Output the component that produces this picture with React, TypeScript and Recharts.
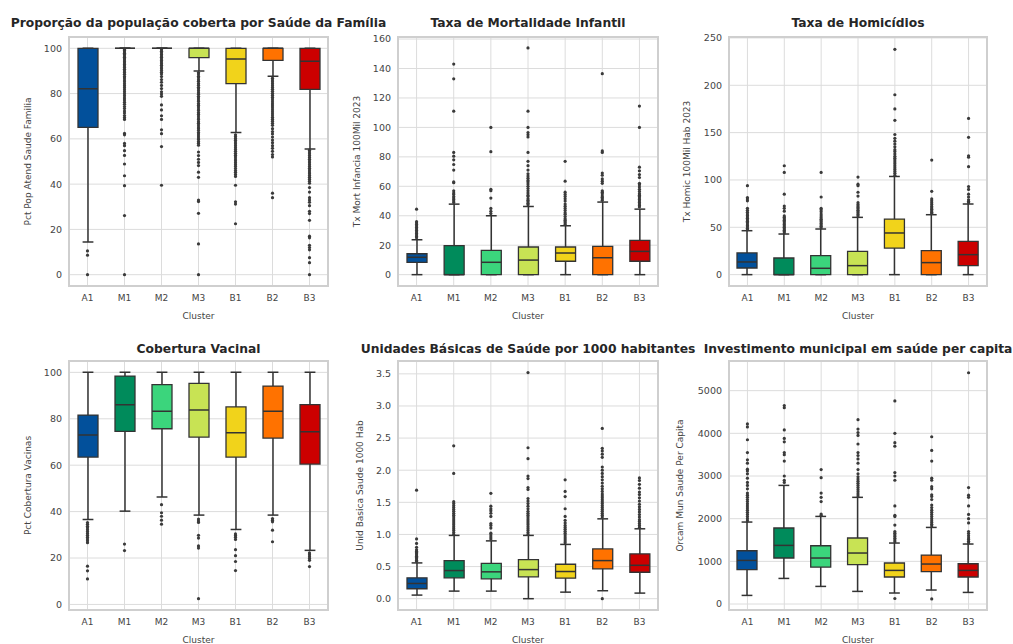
import React from 'react';
import {
  Bar,
  CartesianGrid,
  ComposedChart,
  Label,
  ReferenceArea,
  Scatter,
  XAxis,
  YAxis,
} from 'recharts';

const CLUSTERS = ['A1', 'M1', 'M2', 'M3', 'B1', 'B2', 'B3'];
const CLUSTER_COLORS = ['#02509b', '#008b5b', '#3bd57c', '#c8e354', '#f1d31b', '#ff7200', '#cc0000'];

// Proporção da população coberta por Saúde da Família
const pspfLow = [14.4, 100, 100, 90, 62.8, 87.7, 55.5];
const pspfQ1 = [65.1, 100, 100, 95.9, 84.4, 94.7, 81.9];
const pspfMed = [82.1, 100, 100, 100, 95.3, 100, 94.3];
const pspfQ3 = [100, 100, 100, 100, 100, 100, 100];
const pspfHigh = [100, 100, 100, 100, 100, 100, 100];
const pspfOutliers = [
  [10.5, 8.6, 0],
  [99.5, 99, 98.4, 97.8, 97.3, 96.6, 96, 95.4, 94.8, 94.1, 93.5, 92.8, 92.2, 91.5, 90.7, 90, 89.3, 88.5, 87.6, 86.9,
    86, 85.2, 84.3, 83.5, 82.6, 81.7, 80.8, 79.9, 79, 78.1, 77.2, 76.2, 75.3, 74.3, 73.4, 72.3, 71.4, 70.3, 69.4, 68.6,
    62.4, 61.8, 58, 57, 54.8, 52.7, 48.9, 43.7, 39.3, 26.1, 0],
  [99.4, 98.7, 98, 97.3, 96.6, 96, 95.3, 94.6, 94, 93.2, 92.5, 91.7, 91, 90.2, 89.4, 88.6, 87.5, 86.2, 85, 83.6, 82.2,
    80.8, 79.8, 78.8, 75, 72.8, 70.2, 68.6, 64, 62.3, 56.6, 39.5],
  [89.3, 88.6, 87.7, 87, 86.1, 85.4, 84.5, 83.7, 82.8, 82.1, 81.3, 80.4, 79.7, 78.8, 78.1, 77.2, 76.5, 75.6, 74.9, 74.1,
    73.2, 72.5, 71.6, 70.9, 70.1, 69.2, 68.5, 67.6, 66.9, 66.1, 65.2, 64.5, 63.7, 62.8, 62.1, 61.3, 60.4, 59.7, 58.8,
    58.1, 57.2, 54.2, 52.6, 51, 49.6, 48.2, 45.3, 43, 33, 32.3, 27.1, 13.6, 0],
  [61.8, 61, 60.2, 59.4, 58.6, 57.8, 57, 56.1, 55.3, 54.5, 53.6, 52.8, 52, 51.1, 50.3, 49.5, 48.6, 47.8, 46.9, 46,
    45.2, 44.3, 43.4, 39.5, 32.2, 31.2, 22.5],
  [86.8, 86, 85.2, 84.4, 83.5, 82.7, 81.9, 81, 80.1, 79.3, 78.4, 77.6, 76.7, 75.8, 75, 74.1, 73.2, 72.3, 71.4, 70.5,
    69.6, 68.7, 67.8, 66.9, 66, 64.5, 63.2, 62.2, 60.8, 59.5, 58.3, 57, 55.8, 54.5, 53.1, 52, 36, 34],
  [55, 54.2, 53.4, 52.6, 51.8, 51, 50.2, 49.4, 48.6, 47.8, 47, 46.2, 45.4, 44.6, 43.8, 43, 42.2, 41.3, 40.4, 38.5,
    36.5, 34, 33, 32, 30.5, 28, 27, 24, 17, 16.3, 13, 12, 11, 7.5, 5.3, 0],
];

// Taxa de Mortalidade Infantil
const mortLow = [0, 0, 0, 0, 0, 0, 0];
const mortQ1 = [8.4, 0, 0, 0, 9.1, 0, 9.1];
const mortMed = [11.8, 0, 8.4, 9.9, 14.7, 11.5, 15.8];
const mortQ3 = [14.2, 19.7, 16.5, 18.8, 18.8, 19.2, 23.3];
const mortHigh = [23.7, 47.9, 40, 46.3, 33.2, 49.3, 44.5];
const mortOutliers = [
  [25, 26, 27, 28, 29, 30, 31, 32, 33, 34, 35, 36, 44.5],
  [49, 50, 51, 52, 53, 54.5, 55.5, 57, 62.5, 63, 71, 74.8, 78, 80.5, 83, 111, 133, 143],
  [41.5, 43, 45, 52, 57, 58, 83.5, 100],
  [47.5, 48.5, 49.5, 50.5, 51.5, 53, 54, 55.5, 57, 58.5, 60, 61.5, 63, 64, 65.5, 67, 68.5, 71, 74, 77, 83, 93.5, 95,
    96.5, 100, 111, 154],
  [34, 35, 36, 37, 38, 39.5, 41, 42, 43.5, 45, 46.5, 48, 50, 51.5, 53, 54.5, 56, 63.5, 77],
  [50.5, 51.5, 52.5, 53.5, 55, 56, 57, 62, 63.5, 65, 67.5, 69, 83, 84, 136.5],
  [46, 47, 48, 49, 50, 51, 52, 53, 54, 55, 56.5, 58, 59.5, 61, 62, 66, 68, 70.5, 73, 100, 114.5],
];

// Taxa de Homicídios
const homLow = [0, 0, 0, 0, 0, 0, 0];
const homQ1 = [7, 0, 0, 0, 28.1, 0, 9.5];
const homMed = [13.4, 0, 6.7, 9.5, 44, 12.7, 21.1];
const homQ3 = [22.9, 17.6, 20, 24.6, 58.7, 25.3, 35.2];
const homHigh = [46.4, 42.9, 48.2, 60.5, 103.7, 63.3, 74.6];
const homOutliers = [
  [47.5, 49, 50.5, 52, 53.5, 55, 56.5, 58, 59.5, 61, 62.5, 64, 66, 68, 70, 78, 80, 81.5, 94],
  [44, 45.5, 47, 48.5, 50, 51.5, 53, 54.5, 56, 57.5, 59, 60.5, 62, 67, 70, 72.5, 85, 108, 115],
  [49.5, 51, 52.5, 54, 55.5, 57, 58.5, 60, 62, 64, 66.5, 68.5, 70, 82, 108],
  [62, 63.5, 65, 66.5, 68, 69.5, 71, 72.5, 74, 76, 83, 87, 94, 95.5, 103],
  [105, 107, 109, 111, 113, 115, 117, 119, 121, 123, 125, 127.5, 130, 132, 135, 138, 141, 144, 148, 163, 175, 190, 238],
  [64.5, 66, 67.5, 69, 70.5, 72, 74, 76, 78, 80, 88, 121],
  [76, 77.5, 79, 82, 85, 90, 93, 114, 124, 125.5, 145, 165],
];

// Cobertura Vacinal
const vacLow = [36.6, 40.2, 46.3, 38.5, 32.3, 38.5, 23.3];
const vacQ1 = [63.5, 74.6, 75.7, 72.1, 63.5, 71.7, 60.5];
const vacMed = [73, 86.1, 83.2, 83.8, 74, 83.2, 74.4];
const vacQ3 = [81.6, 98.4, 94.7, 95.3, 85.1, 94.1, 86.1];
const vacHigh = [100, 100, 100, 100, 100, 100, 100];
const vacOutliers = [
  [35.3, 34.5, 33.7, 33, 32.2, 31.4, 30.6, 29.8, 29, 28.2, 27.4, 26.6, 16.5, 14.5, 11],
  [26, 23.2],
  [43, 39.5, 38, 36.3, 34.6],
  [36.8, 36, 35.3, 29.8, 28.6, 25.2, 24.3, 2.5],
  [30.4, 29.7, 29, 28, 23.6, 21, 18.5, 14.6],
  [37, 36.3, 35.6, 32, 27],
  [22.2, 21.4, 20.6, 19.8, 19, 16.3],
];

// Unidades Básicas de Saúde por 1000 habitantes
const ubsLow = [0.056, 0.118, 0.118, 0, 0.102, 0.124, 0.087];
const ubsQ1 = [0.155, 0.325, 0.31, 0.34, 0.319, 0.464, 0.412];
const ubsMed = [0.237, 0.438, 0.418, 0.453, 0.423, 0.593, 0.52];
const ubsQ3 = [0.325, 0.593, 0.551, 0.608, 0.536, 0.774, 0.697];
const ubsHigh = [0.557, 0.985, 0.9, 0.985, 0.845, 1.243, 1.088];
const ubsOutliers = [
  [0.58, 0.6, 0.62, 0.64, 0.66, 0.68, 0.7, 0.72, 0.74, 0.76, 0.8, 0.86, 0.93, 1.69],
  [1.0, 1.03, 1.06, 1.09, 1.12, 1.15, 1.18, 1.21, 1.24, 1.27, 1.3, 1.33, 1.36, 1.39, 1.42, 1.45, 1.48, 1.51, 1.95, 2.38],
  [0.93, 0.96, 0.99, 1.02, 1.1, 1.14, 1.17, 1.28, 1.33, 1.37, 1.4, 1.44, 1.64],
  [1.0, 1.03, 1.06, 1.09, 1.12, 1.15, 1.18, 1.21, 1.24, 1.27, 1.3, 1.33, 1.36, 1.4, 1.44, 1.48, 1.52, 1.56, 1.7, 1.73,
    1.87, 1.91, 2.18, 2.35, 3.52],
  [0.87, 0.9, 0.93, 0.96, 0.99, 1.02, 1.05, 1.08, 1.11, 1.14, 1.18, 1.22, 1.28, 1.4, 1.59, 1.67, 1.85],
  [0, 1.27, 1.3, 1.33, 1.36, 1.39, 1.42, 1.45, 1.48, 1.51, 1.54, 1.57, 1.6, 1.63, 1.67, 1.71, 1.75, 1.8, 1.85, 1.9,
    1.95, 2.0, 2.05, 2.2, 2.25, 2.3, 2.34, 2.65],
  [1.11, 1.14, 1.17, 1.2, 1.23, 1.27, 1.31, 1.35, 1.39, 1.43, 1.47, 1.52, 1.57, 1.62, 1.66, 1.72, 1.78, 1.84, 1.88],
];

// Investimento municipal em saúde per capita
const invLow = [202, 600, 413, 296, 258, 328, 272];
const invQ1 = [804, 1078, 866, 921, 633, 757, 633];
const invMed = [1022, 1374, 1078, 1195, 788, 937, 788];
const invQ3 = [1249, 1781, 1366, 1547, 961, 1148, 944];
const invHigh = [1921, 2780, 2053, 2500, 1429, 1795, 1406];
const invOutliers = [
  [1950, 2000, 2050, 2100, 2150, 2200, 2250, 2300, 2350, 2400, 2450, 2500, 2550, 2600, 2700, 2780, 2850, 2950, 3050,
    3120, 3160, 3300, 3380, 3550, 3850, 4150, 4220],
  [2850, 2900, 3000, 3350, 3500, 3550, 3800, 3880, 4080, 4600, 4650],
  [2080, 2110, 2400, 2500, 2600, 2960, 3150],
  [2530, 2580, 2630, 2680, 2730, 2780, 2830, 2880, 2930, 2980, 3050, 3150, 3300, 3400, 3480, 3550, 3750, 3950, 4020,
    4100, 4320],
  [130, 1460, 1500, 1540, 1580, 1620, 1660, 1700, 1850, 2050, 2080, 2300, 2900, 3000, 3080, 3700, 3780, 4000, 4760],
  [120, 1830, 1870, 1910, 1950, 2000, 2050, 2100, 2150, 2200, 2260, 2320, 2450, 2520, 2560, 2700, 2750, 2900, 2950,
    3350, 3600, 3920],
  [1430, 1470, 1510, 1550, 1600, 1650, 1700, 1900, 2000, 2100, 2300, 2500, 2550, 2730, 5420],
];

const pctTicks = [0, 20, 40, 60, 80, 100];
const mortTicks = [0, 20, 40, 60, 80, 100, 120, 140, 160];
const homTicks = [0, 50, 100, 150, 200, 250];
const ubsTicks = [0, 0.5, 1, 1.5, 2, 2.5, 3, 3.5];
const invTicks = [0, 1000, 2000, 3000, 4000, 5000];

const INK = '#333333';
const Y_AXIS_W = 69;
const PLOT_TOP = 37;
const PLOT_H = 249;
const X_AXIS_H = 40;
const RIGHT_PAD = 4;
const CHART_H = PLOT_TOP + PLOT_H + X_AXIS_H;

interface PanelConfig {
  title: string;
  yLabel: string;
  left: number;
  top: number;
  titleDy: number;
  plotWidth: number;
  labelOffset: number;
  domain: [number, number];
  ticks: number[];
  decimals: number;
  low: number[];
  q1: number[];
  med: number[];
  q3: number[];
  high: number[];
  outliers: number[][];
}

const panels: PanelConfig[] = [
  {
    title: 'Proporção da população coberta por Saúde da Família',
    yLabel: 'Pct Pop Atend Saude Familia',
    left: 0, top: 0, titleDy: 15, plotWidth: 259, labelOffset: 28,
    domain: [-5, 105], ticks: pctTicks, decimals: 0,
    low: pspfLow, q1: pspfQ1, med: pspfMed, q3: pspfQ3, high: pspfHigh, outliers: pspfOutliers,
  },
  {
    title: 'Taxa de Mortalidade Infantil',
    yLabel: 'Tx Mort Infancia 100Mil 2023',
    left: 329, top: 0, titleDy: 15, plotWidth: 260, labelOffset: 28,
    domain: [-7.7, 161.4], ticks: mortTicks, decimals: 0,
    low: mortLow, q1: mortQ1, med: mortMed, q3: mortQ3, high: mortHigh, outliers: mortOutliers,
  },
  {
    title: 'Taxa de Homicídios',
    yLabel: 'Tx Homic 100Mil Hab 2023',
    left: 660, top: 0, titleDy: 15, plotWidth: 258, labelOffset: 27,
    domain: [-12, 251], ticks: homTicks, decimals: 0,
    low: homLow, q1: homQ1, med: homMed, q3: homQ3, high: homHigh, outliers: homOutliers,
  },
  {
    title: 'Cobertura Vacinal',
    yLabel: 'Pct Cobertura Vacinas',
    left: 0, top: 324, titleDy: 17, plotWidth: 259, labelOffset: 28,
    domain: [-2.4, 104.9], ticks: pctTicks, decimals: 0,
    low: vacLow, q1: vacQ1, med: vacMed, q3: vacQ3, high: vacHigh, outliers: vacOutliers,
  },
  {
    title: 'Unidades Básicas de Saúde por 1000 habitantes',
    yLabel: 'Unid Basica Saude 1000 Hab',
    left: 329, top: 324, titleDy: 17, plotWidth: 260, labelOffset: 31,
    domain: [-0.176, 3.7], ticks: ubsTicks, decimals: 1,
    low: ubsLow, q1: ubsQ1, med: ubsMed, q3: ubsQ3, high: ubsHigh, outliers: ubsOutliers,
  },
  {
    title: 'Investimento municipal em saúde per capita',
    yLabel: 'Orcam Mun Saude Per Capita',
    left: 660, top: 324, titleDy: 17, plotWidth: 258, labelOffset: 20,
    domain: [-140, 5695], ticks: invTicks, decimals: 0,
    low: invLow, q1: invQ1, med: invMed, q3: invQ3, high: invHigh, outliers: invOutliers,
  },
];

function buildRows(p: PanelConfig) {
  return CLUSTERS.map((cluster, i) => ({
    cluster,
    color: CLUSTER_COLORS[i],
    whisker: [p.low[i], p.high[i]],
    box: [p.q1[i], p.q3[i]],
    median: [p.med[i], p.med[i]],
  }));
}

function buildFliers(p: PanelConfig) {
  return p.outliers.flatMap((vals, i) => vals.map((value) => ({ pos: i, value })));
}

function WhiskerShape(props: any) {
  const { x, y, width, height } = props;
  const top = Math.min(y, y + height);
  const bottom = Math.max(y, y + height);
  const cx = x + width / 2;
  const cap = width * 0.27;
  return (
    <g stroke={INK} strokeWidth={1.5}>
      <line x1={cx} x2={cx} y1={top} y2={bottom} />
      <line x1={cx - cap} x2={cx + cap} y1={top} y2={top} />
      <line x1={cx - cap} x2={cx + cap} y1={bottom} y2={bottom} />
    </g>
  );
}

function BoxShape(props: any) {
  const { x, y, width, height, payload } = props;
  const top = Math.min(y, y + height);
  const h = Math.abs(height);
  return (
    <path
      d={`M${x},${top}h${width}v${h}h${-width}Z`}
      fill={payload.color}
      stroke={INK}
      strokeWidth={1.3}
    />
  );
}

function MedianShape(props: any) {
  const { x, y, width } = props;
  return <line x1={x} x2={x + width} y1={y} y2={y} stroke={INK} strokeWidth={1.5} />;
}

function FlierDot(props: any) {
  const { cx, cy } = props;
  return <circle cx={cx} cy={cy} r={1.6} fill="#3a3a3a" />;
}

function BoxPanel({ p }: { p: PanelConfig }) {
  const rows = buildRows(p);
  const fliers = buildFliers(p);
  const width = Y_AXIS_W + p.plotWidth + RIGHT_PAD;
  const centerX = p.left + Y_AXIS_W + p.plotWidth / 2;
  return (
    <>
      <div
        style={{
          position: 'absolute',
          left: centerX - 250,
          top: p.top + p.titleDy,
          width: 500,
          height: 16,
          lineHeight: '16px',
          textAlign: 'center',
          fontWeight: 'bold',
          fontSize: 12.3,
          color: '#262626',
          whiteSpace: 'nowrap',
        }}
      >
        {p.title}
      </div>
      <div style={{ position: 'absolute', left: p.left, top: p.top, width, height: CHART_H }}>
        <ComposedChart
          width={width}
          height={CHART_H}
          data={rows}
          margin={{ top: PLOT_TOP, right: RIGHT_PAD, bottom: 0, left: 0 }}
        >
          <CartesianGrid stroke="#dcdcdc" strokeWidth={1} />
          <ReferenceArea
            y1={p.domain[0]}
            y2={p.domain[1]}
            fill="none"
            stroke="#cfcfcf"
            strokeWidth={2}
            ifOverflow="visible"
          />
          <XAxis
            dataKey="cluster"
            height={X_AXIS_H}
            interval={0}
            axisLine={false}
            tickLine={false}
            tickSize={0}
            tickMargin={9}
            tick={{ fontSize: 9, fill: '#444' }}
          >
            <Label value="Cluster" position="insideBottom" offset={7} style={{ fontSize: 9, fill: '#444' }} />
          </XAxis>
          <XAxis xAxisId="w" dataKey="cluster" hide />
          <XAxis xAxisId="m" dataKey="cluster" hide />
          <XAxis xAxisId="o" type="number" dataKey="pos" domain={[-0.5, 6.5]} allowDataOverflow hide />
          <YAxis
            type="number"
            domain={p.domain}
            ticks={p.ticks}
            allowDataOverflow
            width={Y_AXIS_W}
            axisLine={false}
            tickLine={false}
            tickSize={0}
            tickMargin={7}
            tick={{ fontSize: 9.5, fill: '#444' }}
            tickFormatter={(v: number) => v.toFixed(p.decimals)}
          >
            <Label
              value={p.yLabel}
              angle={-90}
              position="insideLeft"
              offset={p.labelOffset}
              style={{ fontSize: 9, fill: '#444', textAnchor: 'middle' }}
            />
          </YAxis>
          <Bar xAxisId="w" dataKey="whisker" barSize={20} shape={WhiskerShape} isAnimationActive={false} />
          <Scatter xAxisId="o" data={fliers} dataKey="value" shape={FlierDot} isAnimationActive={false} />
          <Bar dataKey="box" barSize={20} shape={BoxShape} isAnimationActive={false} />
          <Bar xAxisId="m" dataKey="median" barSize={20} shape={MedianShape} isAnimationActive={false} />
        </ComposedChart>
      </div>
    </>
  );
}

export default function App() {
  return (
    <div
      style={{
        position: 'absolute',
        left: 0,
        top: 0,
        width: 1013,
        height: 644,
        overflow: 'hidden',
        background: '#ffffff',
        fontFamily: '"DejaVu Sans", sans-serif',
      }}
    >
      {panels.map((p) => (
        <BoxPanel key={p.title} p={p} />
      ))}
    </div>
  );
}
